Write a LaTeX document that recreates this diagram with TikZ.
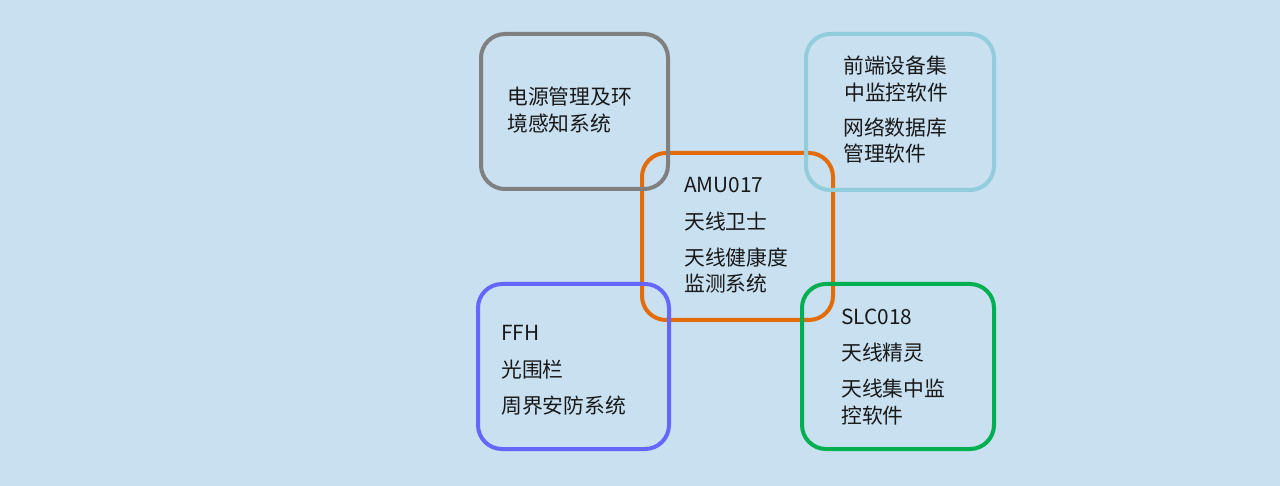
\documentclass[tikz,border=0pt]{standalone}
\usepackage{fontspec}
\setmainfont{Noto Sans CJK SC}
\definecolor{bgc}{RGB}{200,224,240}
\definecolor{cgray}{RGB}{128,128,128}
\definecolor{ccyan}{RGB}{146,205,220}
\definecolor{corange}{RGB}{227,108,9}
\definecolor{cblue}{RGB}{102,102,255}
\definecolor{cgreen}{RGB}{0,176,80}
\begin{document}
\begin{tikzpicture}[x=1pt,y=-1pt,
  boxc/.style={line width=4pt,rounded corners=24pt},
  lbl/.style={anchor=west,inner sep=0pt,font=\fontsize{20.8}{23}\selectfont,text=black!90}]
\fill[bgc] (0,0) rectangle (1280,486);
\useasboundingbox (0,0) rectangle (1280,486);
% boxes
\draw[boxc,corange] (642,153) rectangle (833,320);
\draw[boxc,cgray] (481,34) rectangle (668,189);
\draw[boxc,ccyan] (806,34) rectangle (994,190);
\draw[boxc,cblue] (478,284) rectangle (669,449);
\draw[boxc,cgreen] (802,284) rectangle (994,449);
% gray text
\node[lbl] (g1) at (507,97) {电源管理及环};
\node[lbl] (g2) at (507,124) {境感知系统};
% cyan text
\node[lbl] (c1) at (843,66) {前端设备集};
\node[lbl] (c2) at (844,93) {中监控软件};
\node[lbl] (c3) at (843,128) {网络数据库};
\node[lbl] (c4) at (843,154) {管理软件};
% orange text
\node[lbl] (o1) at (684,185) {AMU017};
\node[lbl] (o2) at (684,222) {天线卫士};
\node[lbl] (o3) at (684,257) {天线健康度};
\node[lbl] (o4) at (684,284) {监测系统};
% blue text
\node[lbl] (b1) at (501,333) {FFH};
\node[lbl] (b2) at (501,370) {光围栏};
\node[lbl] (b3) at (501,406) {周界安防系统};
% green text
\node[lbl] (s1) at (841,317) {SLC018};
\node[lbl] (s2) at (841,353) {天线精灵};
\node[lbl] (s3) at (841,389) {天线集中监};
\node[lbl] (s4) at (841,416) {控软件};
\end{tikzpicture}
\end{document}
